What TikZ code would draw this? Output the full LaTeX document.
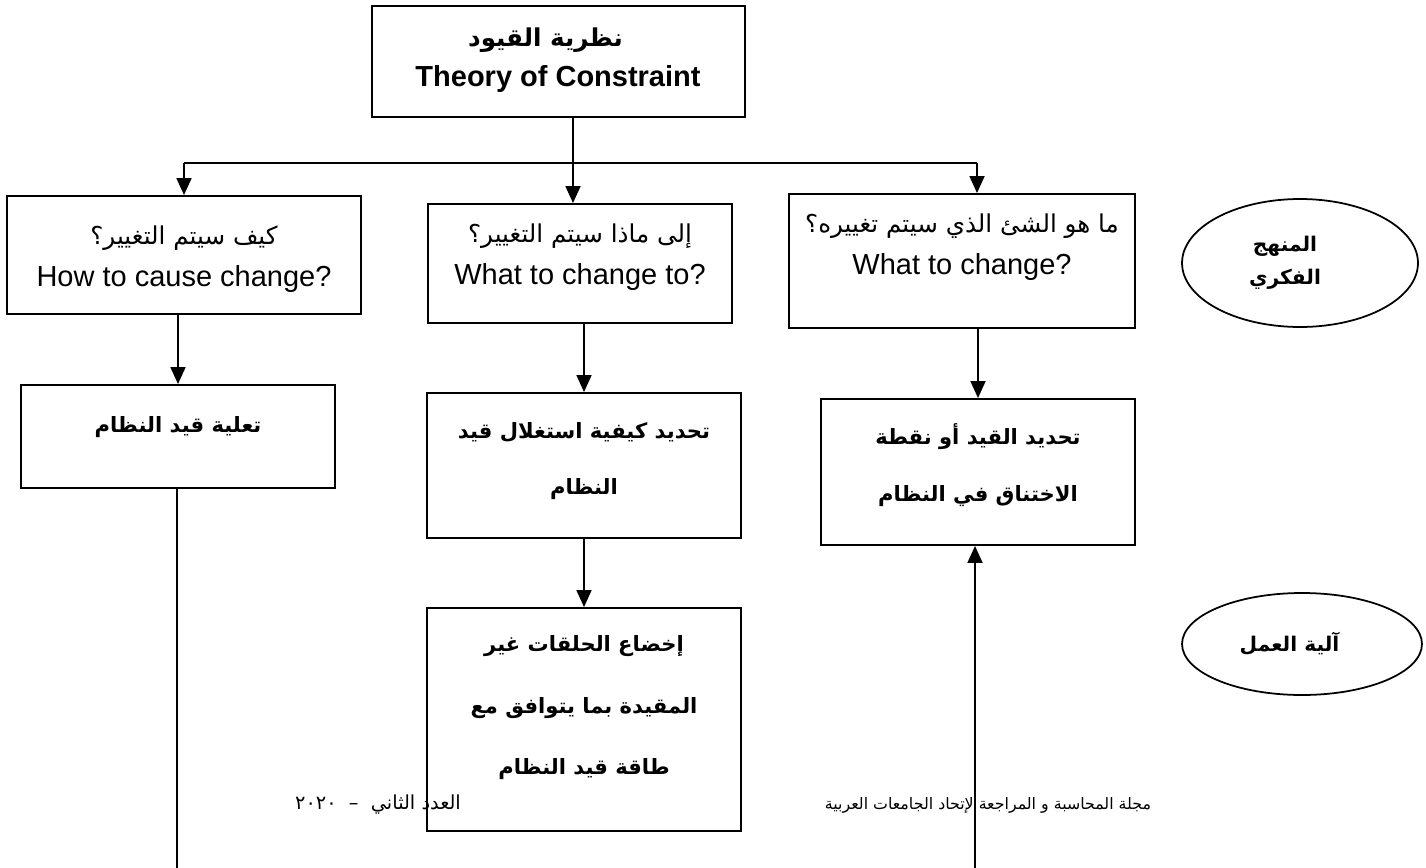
\documentclass[tikz,border=0pt]{standalone}
\usepackage{fontspec}
\setmainfont{Liberation Sans}
\newfontfamily\arabicfont[Script=Arabic]{DejaVu Sans}
\TeXXeTstate=1
\usetikzlibrary{arrows.meta,shapes.geometric}

\tikzstyle{box}=[rectangle, draw=black, line width=1.1pt, inner sep=0pt, anchor=center]
\tikzstyle{oval}=[ellipse, draw=black, line width=1pt, inner sep=0pt, align=center]
\tikzstyle{annot}=[align=center, inner sep=0pt]
\tikzstyle{arr}=[-{Triangle[length=0.34cm,width=0.3cm]}, line width=1pt]
\tikzstyle{link}=[line width=0.8pt]

\newcommand{\artext}[1]{{\arabicfont\fontsize{14}{24}\selectfont\beginR #1\endR}}
\newcommand{\arbold}[1]{{\arabicfont\bfseries\beginR #1\endR}}

\begin{document}
\begin{tikzpicture}[x=0.02cm, y=-0.02cm]
	\useasboundingbox (0,0) rectangle (1426,868);

	% first row
	\node[box, minimum width=7.46cm, minimum height=2.22cm] (toc) at (558.5,61.5) {};
	\node[box, minimum width=7.08cm, minimum height=2.36cm] (how) at (184,255) {};
	\node[box, minimum width=6.08cm, minimum height=2.38cm] (whatto) at (580,263.5) {};
	\node[box, minimum width=6.92cm, minimum height=2.68cm] (what) at (962,261) {};

	% second row
	\node[box, minimum width=6.28cm, minimum height=2.06cm] (elevate) at (178,436.5) {};
	\node[box, minimum width=6.28cm, minimum height=2.9cm] (exploit) at (584,465.5) {};
	\node[box, minimum width=6.28cm, minimum height=2.92cm] (identify) at (978,472) {};
	\node[box, minimum width=6.28cm, minimum height=4.46cm] (subord) at (584,719.5) {};

	\node[oval, minimum width=4.72cm, minimum height=2.56cm, font=\fontsize{11.5}{19}\selectfont] (thinking) at (1300,263) {\arbold{المنهج}\hspace*{0.6cm}\\\arbold{الفكري}\hspace*{0.6cm}};
	\node[oval, minimum width=4.8cm, minimum height=2.04cm, font=\fontsize{11.5}{19}\selectfont] (mechanism) at (1302,644) {\arbold{آلية العمل}\hspace*{0.5cm}};

	% texts
	\node[annot, font=\bfseries\fontsize{16.5}{23}\selectfont] (toctxt) at (558,60) {{\fontsize{14}{23}\selectfont\arbold{نظرية القيود}}\hspace*{0.5cm}\\Theory of Constraint};
	\node[annot, font=\fontsize{16.5}{24}\selectfont] (howtxt) at (184,259) {\artext{كيف سيتم التغيير؟}\\How to cause change?};
	\node[annot, font=\fontsize{16.5}{24}\selectfont] (whattotxt) at (580,257) {\artext{إلى ماذا سيتم التغيير؟}\\What to change to?};
	\node[annot, font=\fontsize{16.5}{24}\selectfont] (whattxt) at (962,247) {\artext{ما هو الشئ الذي سيتم تغييره؟}\\What to change?};
	\node[annot, font=\fontsize{12}{32}\selectfont] (elevatetxt) at (178,427) {\arbold{تعلية قيد النظام}};
	\node[annot, font=\fontsize{12}{32}\selectfont] (exploittxt) at (584,461) {\arbold{تحديد كيفية استغلال قيد}\\\arbold{النظام}};
	\node[annot, font=\fontsize{12}{32}\selectfont] (identifytxt) at (978,465) {\arbold{تحديد القيد أو نقطة}\\\arbold{الاختناق في النظام}};
	\node[annot, font=\fontsize{12}{35}\selectfont] (subordtxt) at (584,708) {\arbold{إخضاع الحلقات غير}\\\arbold{المقيدة بما يتوافق مع}\\\arbold{طاقة قيد النظام}};

	% footer
	\node[annot, font=\fontsize{9}{14}\selectfont] (journal) at (988,805) {{\arabicfont\beginR مجلة المحاسبة و المراجعة لإتحاد الجامعات العربية\endR}};
	\node[annot, font=\fontsize{11}{14}\selectfont] (issue) at (378,805) {{\arabicfont\beginR العدد الثاني \ – \ \beginL ٢٠٢٠\endL\endR}};

	% connectors
	\coordinate (bl) at (184,163);
	\coordinate (bm) at (573,163);
	\coordinate (br) at (977,163);
	\coordinate (endl) at (177,868);
	\coordinate (endr) at (975,868);

	\draw[link] (bm |- toc.south) -- (bm);
	\draw[link] (bl) -- (br);
	\draw[arr] (bl) -- (bl |- how.north);
	\draw[arr] (bm) -- (bm |- whatto.north);
	\draw[arr] (br) -- (br |- what.north);

	\draw[arr] (elevate.north |- how.south) -- (elevate.north);
	\draw[arr] (exploit.north |- whatto.south) -- (exploit.north);
	\draw[arr] (identify.north |- what.south) -- (identify.north);
	\draw[arr] (exploit.south) -- (subord.north);

	\draw[link, line width=1pt] (endl |- elevate.south) -- (endl);
	\draw[arr] (endr) -- (endr |- identify.south);

\end{tikzpicture}
\end{document}
